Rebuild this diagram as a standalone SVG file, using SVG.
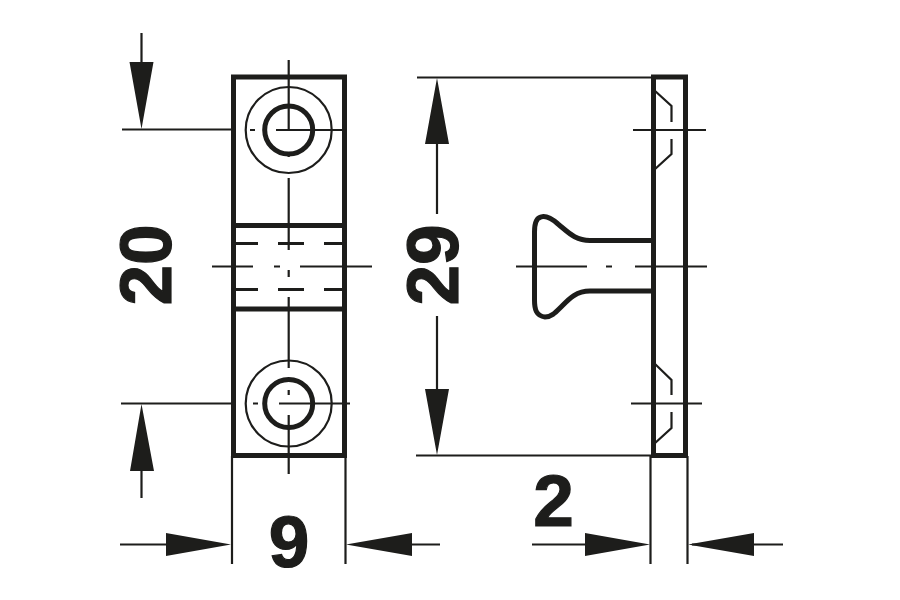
<svg xmlns="http://www.w3.org/2000/svg" width="900" height="600" viewBox="0 0 900 600">
<style>
.h{fill:none;stroke:#1d1d1b;stroke-width:5}
.m{fill:none;stroke:#1d1d1b;stroke-width:3}
.t{fill:none;stroke:#1d1d1b;stroke-width:2.200}
.a{fill:#1d1d1b;stroke:none}
text{font-family:"Liberation Sans",Arial,sans-serif;font-weight:700;font-size:73px;fill:#1d1d1b;stroke:#1d1d1b;stroke-width:1.200;text-anchor:middle}
</style>
<rect width="900" height="600" fill="#fff"/>
<g id="front-view">
<rect class="h" x="233.500" y="77" width="111" height="378.500"/>
<path class="h" d="M234 225.500H344M234 309H344"/>
<circle class="t" cx="288.700" cy="130" r="43"/>
<circle class="h" cx="288.700" cy="130" r="24"/>
<circle class="t" cx="288.700" cy="403.500" r="43"/>
<circle class="h" cx="288.700" cy="403.500" r="24"/>
<path class="m" d="M236 243.500H258M278 243.500H304M324 243.500H342M236 289.500H258M278 289.500H304M324 289.500H342"/>
</g>
<g id="side-view">
<path class="h" d="M653.500 77H685.500V455.500H653.500Z"/>
<path class="t" d="M654 90L671.500 106V122M671.500 139V154L654 170M654 363L671.500 380V395M671.500 412V428L654 444"/>
<path class="h" stroke-linejoin="round" d="M651 240.500H590C575 240.500 568 232 558 224C550 217 544 216 541 217C536 218 534.500 224 534.500 232V300C534.500 309 536 316 545 317C551 317 555 313 560 308C568 300 575 291 590 291H651"/>
</g>
<g id="connectors">
<path class="t" d="M288.700 60V130M288.700 152V157M288.700 178V250M288.700 297V368M288.700 390V395M288.700 415V474M276 130H346M250 130H255M279 403.500H350M253 403.500H258M212 266.500H253M274 266.500H280M300 266.500H372M288.700 270V277"/>
<path class="t" d="M122 129.500H233M121 403.500H233M417 77.500H652M416 455.500H652M141.500 33V70M141.500 440V498M232 456V564M345.500 456V564M650.500 456V564M687.500 456V564"/>
<path class="t" d="M437 140V214M437 316V394M120 544.500H170M355 544.500H440M532 544.500H590M692 544.500H783"/>
<path class="t" d="M516 266.500H587M606 266.500H612M635 266.500H707M633 130H706M631 403.500H702"/>
<path class="a" d="M141.500 129L129.500 62H153.500ZM141.500 404L130 471H154ZM437 78L425 144H449ZM437 455L425 389H449ZM231 544.500L166 533V556ZM346 544.500L412 533V556ZM650 544.500L585 533V556ZM688 544.500L754 533V556Z"/>
</g>
<g id="labels">
<text transform="translate(171 265) rotate(-90)">20</text>
<text transform="translate(458 265) rotate(-90)">29</text>
<text x="289" y="567">9</text>
<text x="553.500" y="526">2</text>
</g>
</svg>
